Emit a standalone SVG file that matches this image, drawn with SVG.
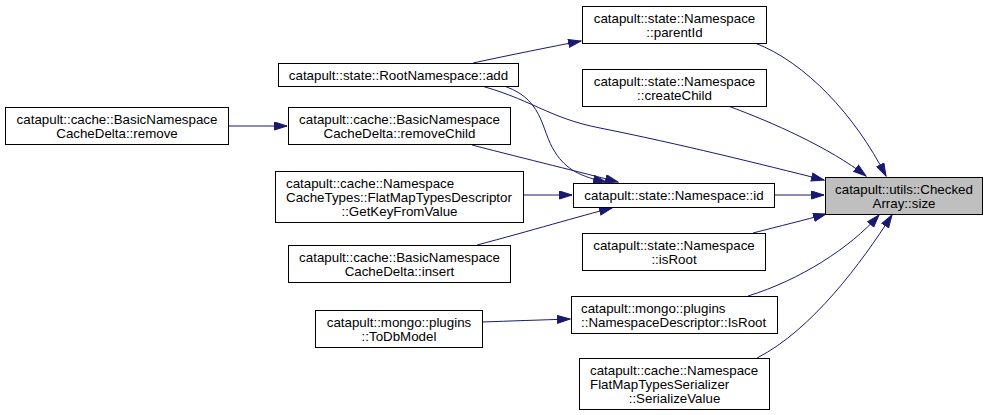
<svg xmlns="http://www.w3.org/2000/svg" width="990" height="415" viewBox="0 0 990 415">
<style>
.n rect{fill:#ffffff;stroke:#000000;stroke-width:1}
.n text{font-family:"Liberation Sans",Arial,Helvetica,sans-serif;font-size:13.33px;fill:#000000}
.c{text-anchor:middle}
.e path{fill:none;stroke:#191970;stroke-width:1}
</style>
<defs>
<marker id="ah" markerUnits="userSpaceOnUse" markerWidth="14" markerHeight="10" refX="13" refY="4.5" orient="auto">
<path d="M0.5,0.5 L13,4.5 L0.5,8.5 Z" fill="#191970" stroke="#191970" stroke-width="1"/>
</marker>
</defs>
<rect width="990" height="415" fill="#ffffff"/>
<g id="connectors" class="e">
<path marker-end="url(#ah)" d="M755,43 C805,62 855,115 886,176"/>
<path marker-end="url(#ah)" d="M728,106 C772,122 830,148 866,176"/>
<path marker-end="url(#ah)" d="M474,84 C530,98 548,118 600,128 C680,144 760,164 824,180"/>
<path marker-end="url(#ah)" d="M497,84 C545,96 540,130 555,152 C566,170 582,177 606,182"/>
<path marker-end="url(#ah)" d="M472,145 C530,160 580,172 618,182"/>
<path marker-end="url(#ah)" d="M523,195 L572,195"/>
<path marker-end="url(#ah)" d="M477,245 C530,231 580,216 612,208"/>
<path marker-end="url(#ah)" d="M774,195 L824,195"/>
<path marker-end="url(#ah)" d="M753,233 C780,226 805,220 826,214"/>
<path marker-end="url(#ah)" d="M748,296 C800,280 850,248 879,215"/>
<path marker-end="url(#ah)" d="M757,358 C812,330 862,262 892,215"/>
<path marker-end="url(#ah)" d="M228,126 L287,126"/>
<path marker-end="url(#ah)" d="M473,63 C510,55 550,47 581,41"/>
<path marker-end="url(#ah)" d="M482,322 C510,321 540,320 570,319"/>
</g>
<g id="node-size" class="n">
<rect x="825.5" y="177.5" width="157" height="37" style="fill:#bfbfbf"/>
<text class="c" x="904" y="194">catapult::utils::Checked</text>
<text class="c" x="904" y="208">Array::size</text>
</g>
<g id="node-parentId" class="n">
<rect x="582.5" y="6.5" width="184" height="37"/>
<text class="c" x="674.5" y="23">catapult::state::Namespace</text>
<text class="c" x="674.5" y="37">::parentId</text>
</g>
<g id="node-createChild" class="n">
<rect x="582.5" y="69.5" width="184" height="37"/>
<text class="c" x="674.5" y="86">catapult::state::Namespace</text>
<text class="c" x="674.5" y="100">::createChild</text>
</g>
<g id="node-id" class="n">
<rect x="573.5" y="183.5" width="201" height="24"/>
<text class="c" x="674" y="200">catapult::state::Namespace::id</text>
</g>
<g id="node-isRoot" class="n">
<rect x="582.5" y="233.5" width="183" height="37"/>
<text class="c" x="674" y="250">catapult::state::Namespace</text>
<text class="c" x="674" y="264">::isRoot</text>
</g>
<g id="node-nsdesc-isroot" class="n">
<rect x="571.5" y="296.5" width="206" height="37"/>
<text x="581" y="313">catapult::mongo::plugins</text>
<text x="581" y="327">::NamespaceDescriptor::IsRoot</text>
</g>
<g id="node-serializevalue" class="n">
<rect x="579.5" y="358.5" width="190" height="51"/>
<text x="590" y="375">catapult::cache::Namespace</text>
<text x="590" y="389">FlatMapTypesSerializer</text>
<text class="c" x="674.5" y="403">::SerializeValue</text>
</g>
<g id="node-add" class="n">
<rect x="278.5" y="63.5" width="240" height="23"/>
<text class="c" x="398.5" y="80">catapult::state::RootNamespace::add</text>
</g>
<g id="node-removeChild" class="n">
<rect x="288.5" y="107.5" width="222" height="37"/>
<text class="c" x="399.5" y="124">catapult::cache::BasicNamespace</text>
<text class="c" x="399.5" y="138">CacheDelta::removeChild</text>
</g>
<g id="node-getkeyfromvalue" class="n">
<rect x="275.5" y="171.5" width="248" height="51"/>
<text x="286" y="188">catapult::cache::Namespace</text>
<text x="286" y="202">CacheTypes::FlatMapTypesDescriptor</text>
<text class="c" x="399.5" y="216">::GetKeyFromValue</text>
</g>
<g id="node-insert" class="n">
<rect x="288.5" y="245.5" width="222" height="37"/>
<text class="c" x="399.5" y="262">catapult::cache::BasicNamespace</text>
<text class="c" x="399.5" y="276">CacheDelta::insert</text>
</g>
<g id="node-remove" class="n">
<rect x="5.5" y="107.5" width="223" height="37"/>
<text class="c" x="117" y="124">catapult::cache::BasicNamespace</text>
<text class="c" x="117" y="138">CacheDelta::remove</text>
</g>
<g id="node-todbmodel" class="n">
<rect x="315.5" y="310.5" width="167" height="37"/>
<text class="c" x="399" y="327">catapult::mongo::plugins</text>
<text class="c" x="399" y="341">::ToDbModel</text>
</g>
</svg>
